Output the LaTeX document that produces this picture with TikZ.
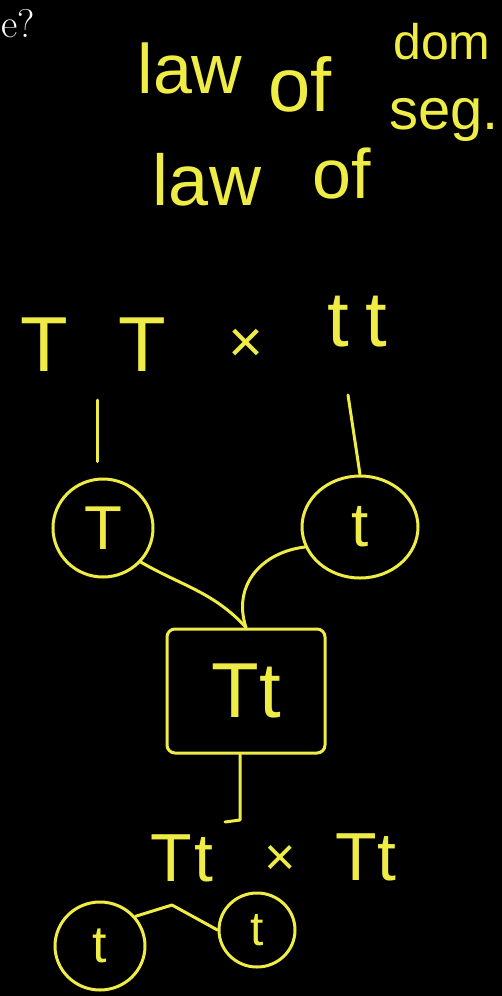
\documentclass[tikz,border=0pt]{standalone}
\usepackage{fontspec}
\newfontfamily\hand{Liberation Sans}
\usetikzlibrary{shapes.geometric}
\definecolor{chalk}{RGB}{240,236,70}
\tikzset{
  hw/.style={text=chalk, font=\hand, inner sep=0pt},
  ring/.style={draw=chalk, line width=3pt, ellipse, inner sep=0pt},
  link/.style={draw=chalk, line width=3pt, line cap=round, line join=round},
}
\begin{document}
\begin{tikzpicture}[x=1pt,y=-1pt]
\fill[black] (0,0) rectangle (502,996);
\useasboundingbox (0,0) rectangle (502,996);
% fragment of previous slide
\node[text=white, font=\fontsize{40}{40}\selectfont, inner sep=0pt, anchor=west] (eq) at (1,24) {e?};
% header notes
\node[hw, font=\hand\fontsize{70}{70}\selectfont] (law1) at (190,68) {law};
\node[hw, font=\hand\fontsize{76}{76}\selectfont] (of1) at (300,84) {of};
\node[hw, font=\hand\fontsize{50}{50}\selectfont] (dom) at (442,42) {dom};
\node[hw, font=\hand\fontsize{72}{72}\selectfont] (law2) at (207,180) {law};
\node[hw, font=\hand\fontsize{70}{70}\selectfont] (of2) at (342,174) {of};
\node[hw, font=\hand\fontsize{58}{58}\selectfont] (seg) at (444,120) {seg.};
% parents
\node[hw, font=\hand\fontsize{78}{78}\selectfont] (TT) at (93,345) {T\hspace{50pt}T};
\node[hw, font=\hand\fontsize{60}{60}\selectfont] (x1) at (246,346) {×};
\node[hw, font=\hand\fontsize{78}{78}\selectfont] (tt) at (357,322) {t\hspace{16pt}t};
% gametes
\node[ring, minimum width=100pt, minimum height=98pt, font=\hand\fontsize{62}{62}\selectfont, text=chalk] (gT) at (103,528) {T};
\node[ring, minimum width=116pt, minimum height=102pt, font=\hand\fontsize{62}{62}\selectfont, text=chalk] (gt) at (360,527) {t};
\coordinate (lt) at (97,400);
\coordinate (rt) at (348,395);
\draw[link, shorten >=16pt] (lt) -- (lt |- gT.north);
\draw[link] (rt) -- (gt.north);
% offspring
\node[draw=chalk, line width=3pt, rounded corners=8pt, minimum width=158pt, minimum height=124pt,
      hw, font=\hand\fontsize{78}{78}\selectfont] (F1) at (246,691) {Tt};
\draw[link] (gT.-42) .. controls (180,585) and (214,592) .. (F1.north);
\draw[link] (gt.200) .. controls (262,552) and (232,585) .. (F1.north);
% selfing
\coordinate (drop) at (240,820);
\coordinate (hook) at (225,822);
\draw[link] (F1.south -| drop) -- (drop) -- (hook);
\node[hw, font=\hand\fontsize{68}{68}\selectfont] (Tt2) at (182,858) {T\hspace{3pt}t};
\node[hw, font=\hand\fontsize{54}{54}\selectfont] (x2) at (280,860) {×};
\node[hw, font=\hand\fontsize{68}{68}\selectfont] (Tt3) at (366,857) {Tt};
% F1 gametes
\node[ring, minimum width=90pt, minimum height=88pt, font=\hand\fontsize{52}{52}\selectfont, text=chalk] (gL) at (100,946) {t};
\node[ring, minimum width=76pt, minimum height=74pt, font=\hand\fontsize{48}{48}\selectfont, text=chalk] (gR) at (257,930) {t};
\coordinate (split) at (172,905);
\draw[link] (split) -- (gL.40);
\draw[link] (split) -- (gR.west);
\end{tikzpicture}
\end{document}
